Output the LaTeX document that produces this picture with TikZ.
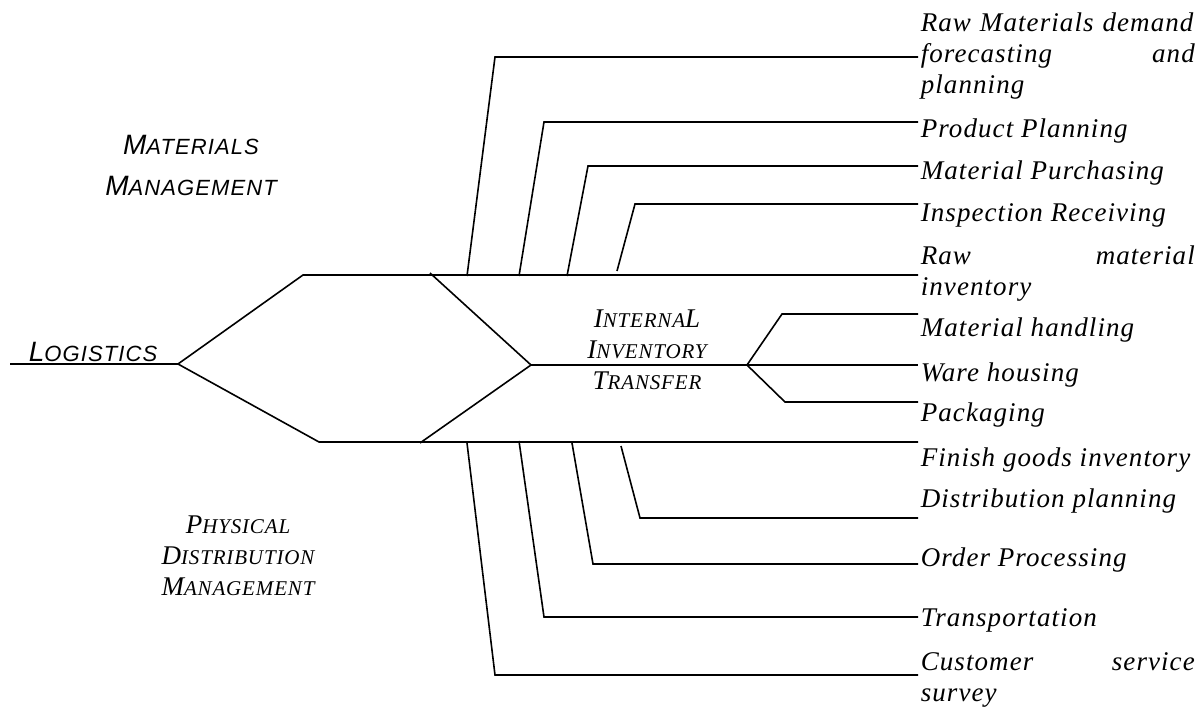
\documentclass[tikz,border=0pt]{standalone}
\usepackage{fontspec}
\setmainfont{Liberation Serif}
\newfontfamily\labfont[LetterSpace=4]{Liberation Serif}
\newfontfamily\headfont[LetterSpace=5]{Liberation Sans}
\newcommand{\smsc}[1]{{\fontsize{21}{31}\selectfont #1}}
\newcommand{\smss}[1]{{\fontsize{22}{41}\selectfont #1}}

\begin{document}
\begin{tikzpicture}[
    x=1pt, y=-1pt,
    line width=1.6pt,
    lab/.style={anchor=west, inner sep=2pt, font=\labfont\itshape\fontsize{27}{31}\selectfont},
    blocklab/.style={lab, text width=274pt, align=left},
    headsans/.style={inner sep=0pt, align=center, font=\headfont\itshape\fontsize{28}{41}\selectfont},
    headserif/.style={inner sep=0pt, align=center, font=\labfont\itshape\fontsize{27}{31}\selectfont},
    ]
  \useasboundingbox (0,0) rectangle (1203,708);

  % branch points
  \coordinate (lg0) at (10,364);
  \coordinate (lgv) at (178,364);
  \coordinate (up) at (303,275);
  \coordinate (lo) at (319,442);
  \coordinate (xa) at (430,273);
  \coordinate (xv) at (531,365);
  \coordinate (xb) at (420,443);
  \coordinate (fk) at (747,365);
  \coordinate (fu) at (782,314);
  \coordinate (fd) at (785,402);

  % feet and knees of the side branches
  \coordinate (c1) at (467,276);
  \coordinate (c2) at (519,276);
  \coordinate (c3) at (567,276);
  \coordinate (c4) at (617,271);
  \coordinate (k1) at (495,57);
  \coordinate (k2) at (544,122);
  \coordinate (k3) at (588,166);
  \coordinate (k4) at (635,204);
  \coordinate (d1) at (467,443);
  \coordinate (d2) at (519,441);
  \coordinate (d3) at (572,443);
  \coordinate (d4) at (621,446);
  \coordinate (m1) at (495,675);
  \coordinate (m2) at (544,617);
  \coordinate (m3) at (593,564);
  \coordinate (m4) at (640,518);

  % line ends
  \coordinate (e1) at (918,57);
  \coordinate (e2) at (918,122);
  \coordinate (e3) at (918,166);
  \coordinate (e4) at (918,204);
  \coordinate (e5) at (918,275);
  \coordinate (e6) at (918,314);
  \coordinate (e7) at (918,365);
  \coordinate (e8) at (918,402);
  \coordinate (e9) at (918,442);
  \coordinate (e10) at (918,518);
  \coordinate (e11) at (918,564);
  \coordinate (e12) at (918,617);
  \coordinate (e13) at (918,675);

  \node[headsans, anchor=base west] (lgt) at (28,362) {L\smss{OGISTICS}};
  \node[headsans] (mm) at (191,165) {M\smss{ATERIALS}\\M\smss{ANAGEMENT}};
  \node[headserif] (pdm) at (238,556) {P\smsc{HYSICAL}\\D\smsc{ISTRIBUTION}\\M\smsc{ANAGEMENT}};
  \node[headserif] (iit) at (647,350) {I\smsc{NTERNA}L\\I\smsc{NVENTORY}\\T\smsc{RANSFER}};

  \node[blocklab] (rmd) at (918,56) {Raw Materials demand\\forecasting \hfill and\\planning};
  \node[lab] (pp) at (918,131) {Product Planning};
  \node[lab] (mp) at (918,173) {Material Purchasing};
  \node[lab] (ir) at (918,215) {Inspection Receiving};
  \node[blocklab] (rmi) at (918,274) {Raw \hfill material\\inventory};
  \node[lab] (mh) at (918,330) {Material handling};
  \node[lab] (wh) at (918,375) {Ware housing};
  \node[lab] (pk) at (918,415) {Packaging};
  \node[lab] (fgi) at (918,460) {Finish goods inventory};
  \node[lab] (dp) at (918,501) {Distribution planning};
  \node[lab] (op) at (918,560) {Order Processing};
  \node[lab] (tr) at (918,620) {Transportation};
  \node[blocklab] (cs) at (918,680) {Customer \hfill service\\survey};

  \draw (lg0) -- (lgv);
  \draw (lgv) -- (up) -- (e5);
  \draw (lgv) -- (lo) -- (e9);
  \draw (xa) -- (xv) -- (xb);
  \draw (xv) -- (fk);
  \draw (fk) -- (fu) -- (e6);
  \draw (fk) -- (e7);
  \draw (fk) -- (fd) -- (e8);

  \draw (c1) -- (k1) -- (e1);
  \draw (c2) -- (k2) -- (e2);
  \draw (c3) -- (k3) -- (e3);
  \draw (c4) -- (k4) -- (e4);
  \draw (d1) -- (m1) -- (e13);
  \draw (d2) -- (m2) -- (e12);
  \draw (d3) -- (m3) -- (e11);
  \draw (d4) -- (m4) -- (e10);
\end{tikzpicture}
\end{document}
